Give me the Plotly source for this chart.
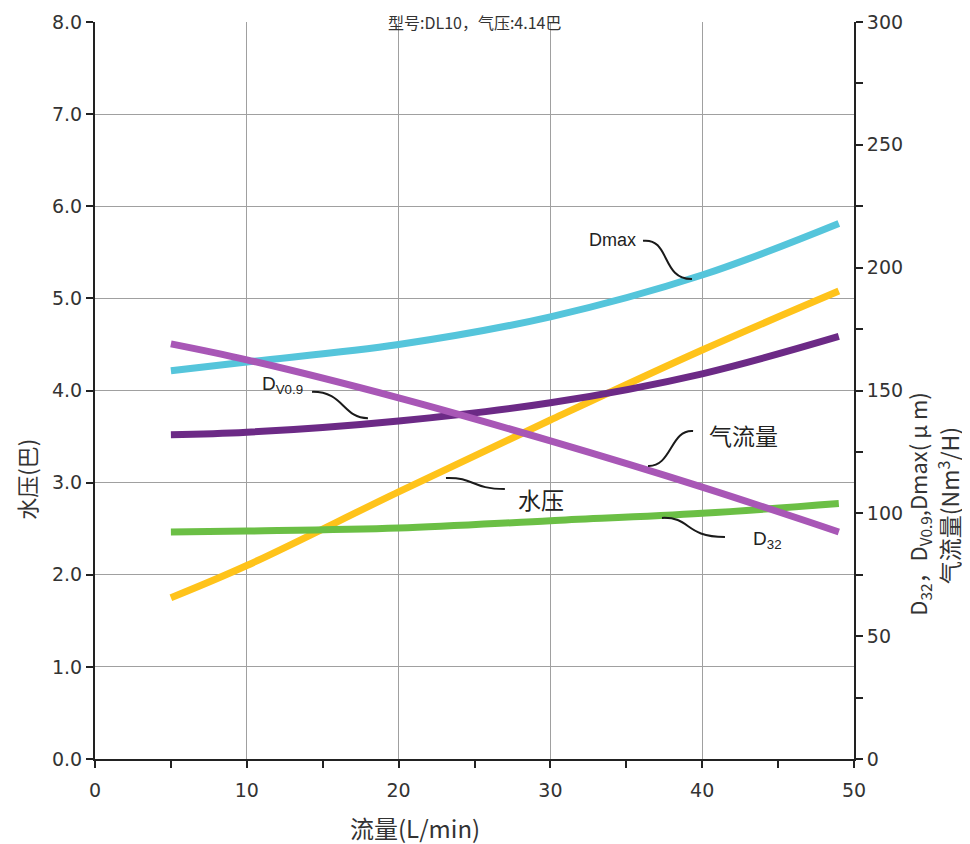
import plotly.graph_objects as go

# ---- data ----
flow = [5, 10, 20, 30, 40, 49]                         # 流量 L/min
water_pressure = [1.75, 2.10, 2.90, 3.68, 4.44, 5.08]  # 水压 (巴), left axis
air_flow = [169, 162.5, 147, 129.5, 110.7, 92.4]       # 气流量 Nm3/H, right axis
dmax = [158, 161.6, 168.7, 180, 197, 218]              # Dmax µm, right axis
dv09 = [132, 133, 137.6, 145, 156.8, 172]              # Dv0.9 µm, right axis
d32 = [92.4, 92.8, 94, 97, 100, 104]                   # D32 µm, right axis

x_ticks = [0, 10, 20, 30, 40, 50]
left_ticks = [0, 1, 2, 3, 4, 5, 6, 7, 8]
right_ticks = [0, 50, 100, 150, 200, 250, 300]

COL_DMAX = "#55C5DB"
COL_WATER = "#FFC31A"
COL_DV = "#6C2A86"
COL_AIR = "#A857B6"
COL_D32 = "#6BBF45"

LAT = "Liberation Sans, Arial, sans-serif"
TICK = "DejaVu Sans, sans-serif"
CJK = "Noto Sans CJK SC, sans-serif"

fig = go.Figure()
lw = 7
fig.add_trace(go.Scatter(x=flow, y=dmax, yaxis="y2", mode="lines",
                         line=dict(color=COL_DMAX, width=lw, shape="spline"), name="Dmax"))
fig.add_trace(go.Scatter(x=flow, y=d32, yaxis="y2", mode="lines",
                         line=dict(color=COL_D32, width=lw, shape="spline"), name="D32"))
fig.add_trace(go.Scatter(x=flow, y=water_pressure, yaxis="y", mode="lines",
                         line=dict(color=COL_WATER, width=lw, shape="spline"), name="水压"))
fig.add_trace(go.Scatter(x=flow, y=dv09, yaxis="y2", mode="lines",
                         line=dict(color=COL_DV, width=lw, shape="spline"), name="Dv0.9"))
fig.add_trace(go.Scatter(x=flow, y=air_flow, yaxis="y2", mode="lines",
                         line=dict(color=COL_AIR, width=lw, shape="spline"), name="气流量"))

# leader lines (data coordinates of the left axis)
leaders = [
    "M 36.1,5.625 C 37.9,5.66 37.3,5.20 39.33,5.21",
    "M 14.3,3.985 C 16.4,3.99 16.3,3.70 17.98,3.70",
    "M 23.12,3.05 C 25.0,3.06 24.8,2.93 27.0,2.93",
    "M 37.35,2.617 C 39.3,2.63 38.8,2.41 41.5,2.41",
    "M 39.4,3.56 C 37.9,3.58 38.0,3.17 36.43,3.18",
]
shapes = [dict(type="path", path=p, xref="x", yref="y",
               line=dict(color="#1a1a1a", width=2)) for p in leaders]

annotations = [
    dict(x=34.06, y=5.63, xref="x", yref="y", text="Dmax", showarrow=False,
         font=dict(family=LAT, size=18, color="#222")),
    dict(x=12.38, y=4.06, xref="x", yref="y", text="D<sub>V0.9</sub>", showarrow=False,
         font=dict(family=LAT, size=19, color="#222")),
    dict(x=42.69, y=3.518, xref="x", yref="y", text="气流量", showarrow=False,
         font=dict(family=CJK, size=23, color="#222")),
    dict(x=29.4, y=2.823, xref="x", yref="y", text="水压", showarrow=False,
         font=dict(family=CJK, size=23, color="#222")),
    dict(x=44.27, y=2.378, xref="x", yref="y", text="D<sub>32</sub>", showarrow=False,
         font=dict(family=LAT, size=19, color="#222")),
    # title at the very top
    dict(x=0.5, y=1.019, xref="paper", yref="paper", yanchor="top",
         text="型号:DL10，气压:4.14巴", showarrow=False,
         font=dict(family=CJK, size=16, color="#333")),
    # axis titles
    dict(x=(26 - 95) / 759, y=0.379, xref="paper", yref="paper", text="水压(巴)",
         textangle=-90, xanchor="center", yanchor="middle",
         showarrow=False, font=dict(family=CJK, size=22, color="#333")),
    dict(x=0.4216, y=-0.0936, xref="paper", yref="paper", text="流量(L/min)", showarrow=False,
         xanchor="center", yanchor="middle", font=dict(family=CJK, size=24, color="#333")),
    dict(x=(919 - 95) / 759, y=0.345, xref="paper", yref="paper",
         text="D<sub>32</sub>，D<sub>V0.9</sub>,Dmax( μ m)",
         textangle=-90, xanchor="center", yanchor="middle", showarrow=False,
         font=dict(family=CJK, size=22, color="#333")),
    dict(x=(949 - 95) / 759, y=0.343, xref="paper", yref="paper",
         text="气流量(Nm<sup>3</sup>/H)",
         textangle=-90, xanchor="center", yanchor="middle", showarrow=False,
         font=dict(family=CJK, size=23, color="#333")),
]

tickfont = dict(family=TICK, size=19, color="#333")

fig.update_layout(
    width=962, height=836,
    margin=dict(l=87, r=116, t=14, b=85, autoexpand=False),
    paper_bgcolor="white", plot_bgcolor="white",
    showlegend=False,
    shapes=shapes, annotations=annotations,
    xaxis=dict(range=[0, 50], tickvals=x_ticks, ticks="outside", ticklen=7, tickwidth=1.5,
               tickcolor="#222", showline=True, linecolor="#222", linewidth=2,
               showgrid=True, gridcolor="#a0a0a0", gridwidth=1, zeroline=False,
               automargin=False,
               minor=dict(dtick=5, ticks="outside", ticklen=7, tickwidth=1.5, tickcolor="#222",
                          showgrid=False),
               tickfont=tickfont, ticklabelstandoff=6),
    yaxis=dict(range=[0, 8], tickvals=left_ticks, tickformat=".1f", ticks="outside",
               ticklen=7, tickwidth=1.5, tickcolor="#222",
               showline=True, linecolor="#222", linewidth=2, automargin=False,
               showgrid=True, gridcolor="#a0a0a0", gridwidth=1, zeroline=False,
               tickfont=tickfont),
    yaxis2=dict(range=[0, 300], tickvals=right_ticks, overlaying="y", side="right",
                ticks="outside", ticklen=7, tickwidth=1.5, tickcolor="#222",
                showline=True, linecolor="#222", linewidth=2, showgrid=False, zeroline=False,
                automargin=False,
                minor=dict(dtick=25, ticks="outside", ticklen=7, tickwidth=1.5,
                           tickcolor="#222", showgrid=False),
                tickfont=tickfont),
)

fig.write_html("out.html")
